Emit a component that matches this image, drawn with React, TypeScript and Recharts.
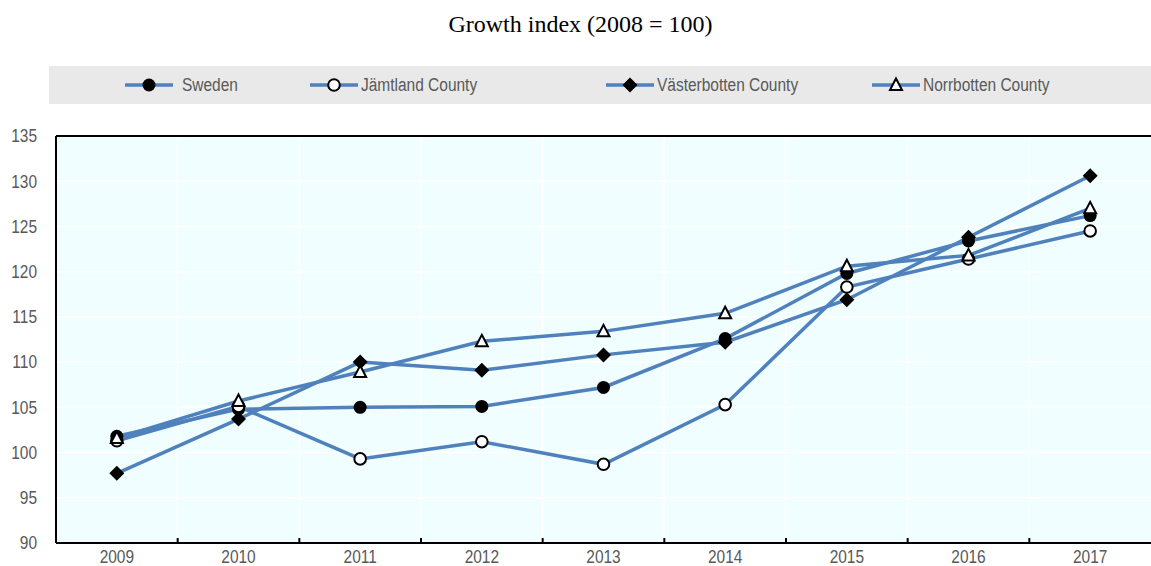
import React from "react";
import { LineChart, Line, XAxis, YAxis, CartesianGrid, ReferenceLine } from "recharts";

const years = ["2009", "2010", "2011", "2012", "2013", "2014", "2015", "2016", "2017"];
const sweden = [101.8, 104.8, 105.0, 105.1, 107.2, 112.6, 119.8, 123.4, 126.2];
const jamtland = [101.3, 105.1, 99.3, 101.2, 98.7, 105.3, 118.3, 121.4, 124.5];
const vasterbotten = [97.7, 103.7, 110.0, 109.1, 110.8, 112.2, 116.9, 123.8, 130.6];
const norrbotten = [101.6, 105.7, 108.9, 112.3, 113.4, 115.4, 120.6, 121.8, 127.0];
const yTicks = [90, 95, 100, 105, 110, 115, 120, 125, 130, 135];
const seriesNames = ["Sweden", "Jämtland County", "Västerbotten County", "Norrbotten County"];

const data = years.map((y, i) => ({
  x: i,
  year: y,
  sweden: sweden[i],
  jamtland: jamtland[i],
  vasterbotten: vasterbotten[i],
  norrbotten: norrbotten[i],
}));

const centers = years.map((_, i) => i);
const boundaries = years.slice(1).map((_, i) => i + 0.5);
const allTicks = [...centers, ...boundaries].sort((a, b) => a - b);

const LINE_COLOR = "#4f81bd";
const TEXT_COLOR = "#595959";
const FONT = "'Liberation Sans', Arial, sans-serif";
const SQUEEZE = 0.86;

type Kind = "filled" | "open" | "diamond" | "triangle";
const kinds: Kind[] = ["filled", "open", "diamond", "triangle"];

function Marker({ cx, cy, kind }: { cx: number; cy: number; kind: Kind }) {
  if (kind === "filled") return <circle cx={cx} cy={cy} r={6.5} fill="#000" />;
  if (kind === "open") return <circle cx={cx} cy={cy} r={5.8} fill="#fff" stroke="#000" strokeWidth={2} />;
  if (kind === "diamond")
    return (
      <polygon
        points={`${cx},${cy - 7.5} ${cx + 7.5},${cy} ${cx},${cy + 7.5} ${cx - 7.5},${cy}`}
        fill="#000"
      />
    );
  return (
    <polygon
      points={`${cx},${cy - 6.5} ${cx + 6},${cy + 5} ${cx - 6},${cy + 5}`}
      fill="#fff"
      stroke="#000"
      strokeWidth={2}
      strokeLinejoin="miter"
    />
  );
}

const makeDot = (kind: Kind) => (props: any) => {
  const { cx, cy, index } = props;
  if (cx == null || cy == null) return <g key={`d${kind}${index}`} />;
  return <Marker key={`d${kind}${index}`} cx={cx} cy={cy} kind={kind} />;
};

function XTick(props: any) {
  const { x, y, payload } = props;
  const v = payload.value as number;
  if (Number.isInteger(v)) {
    return (
      <g transform={`translate(${x},${y + 20}) scale(${SQUEEZE},1)`}>
        <text x={0} y={0} textAnchor="middle" fill={TEXT_COLOR} fontSize={18} fontFamily={FONT}>
          {years[v]}
        </text>
      </g>
    );
  }
  return <line x1={x} x2={x} y1={y} y2={y - 5} stroke="#000" strokeWidth={2} />;
}

function YTick(props: any) {
  const { x, y, payload } = props;
  return (
    <g transform={`translate(${x},${y}) scale(${SQUEEZE},1)`}>
      <text x={0} y={0} dy="0.35em" textAnchor="end" fill={TEXT_COLOR} fontSize={18} fontFamily={FONT}>
        {payload.value}
      </text>
    </g>
  );
}

const legendLefts = [124, 309, 605, 871];

function LegendBox() {
  return (
    <div
      style={{
        position: "absolute",
        left: 49,
        top: 66,
        width: 1102,
        height: 38,
        background: "#e9e9e9",
      }}
    >
      {seriesNames.map((name, i) => (
        <div
          key={name}
          style={{
            position: "absolute",
            left: legendLefts[i] - 49,
            top: 0,
            height: 38,
            display: "flex",
            alignItems: "center",
          }}
        >
          <svg width={50} height={20} style={{ display: "block" }}>
            <line x1={1} x2={49} y1={10} y2={10} stroke={LINE_COLOR} strokeWidth={3.5} />
            <Marker cx={25} cy={10} kind={kinds[i]} />
          </svg>
          <span
            style={{
              marginLeft: i === 0 ? 8 : 2,
              fontFamily: FONT,
              fontSize: 18,
              color: TEXT_COLOR,
              whiteSpace: "nowrap",
              display: "inline-block",
              transform: `scaleX(${SQUEEZE})`,
              transformOrigin: "left center",
            }}
          >
            {name}
          </span>
        </div>
      ))}
    </div>
  );
}

export default function App() {
  return (
    <div style={{ position: "absolute", left: 0, top: 0, width: 1151, height: 566, background: "#fff" }}>
      <div
        style={{
          position: "absolute",
          left: 0,
          top: 10,
          width: 1161,
          textAlign: "center",
          fontFamily: "'Liberation Serif', 'Times New Roman', serif",
          fontSize: 24,
          color: "#000",
          lineHeight: "28px",
          whiteSpace: "nowrap",
        }}
      >
        Growth index (2008 = 100)
      </div>
      <LegendBox />
      <LineChart
        width={1151}
        height={566}
        data={data}
        margin={{ top: 136, right: 0, left: 0, bottom: 0 }}
      >
        <CartesianGrid
          stroke="#ffffff"
          strokeWidth={1.5}
          fill="#f1feff"
          fillOpacity={1}
          verticalValues={boundaries}
          horizontalValues={yTicks}
        />
        <XAxis
          dataKey="x"
          type="number"
          domain={[-0.5, years.length - 0.5]}
          ticks={allTicks}
          interval={0}
          allowDataOverflow
          tick={<XTick />}
          tickLine={false}
          tickSize={0}
          tickMargin={0}
          height={23}
          axisLine={{ stroke: "#000", strokeWidth: 2 }}
        />
        <YAxis
          type="number"
          domain={[90, 135]}
          ticks={yTicks}
          interval={0}
          allowDataOverflow
          width={56}
          tickLine={false}
          tickSize={0}
          tickMargin={19}
          tick={<YTick />}
          axisLine={{ stroke: "#000", strokeWidth: 2 }}
        />
        <ReferenceLine y={135} stroke="#000" strokeWidth={2} />
        <Line
          dataKey="sweden"
          stroke={LINE_COLOR}
          strokeWidth={3.5}
          dot={makeDot("filled")}
          activeDot={false}
          isAnimationActive={false}
        />
        <Line
          dataKey="jamtland"
          stroke={LINE_COLOR}
          strokeWidth={3.5}
          dot={makeDot("open")}
          activeDot={false}
          isAnimationActive={false}
        />
        <Line
          dataKey="vasterbotten"
          stroke={LINE_COLOR}
          strokeWidth={3.5}
          dot={makeDot("diamond")}
          activeDot={false}
          isAnimationActive={false}
        />
        <Line
          dataKey="norrbotten"
          stroke={LINE_COLOR}
          strokeWidth={3.5}
          dot={makeDot("triangle")}
          activeDot={false}
          isAnimationActive={false}
        />
      </LineChart>
    </div>
  );
}
